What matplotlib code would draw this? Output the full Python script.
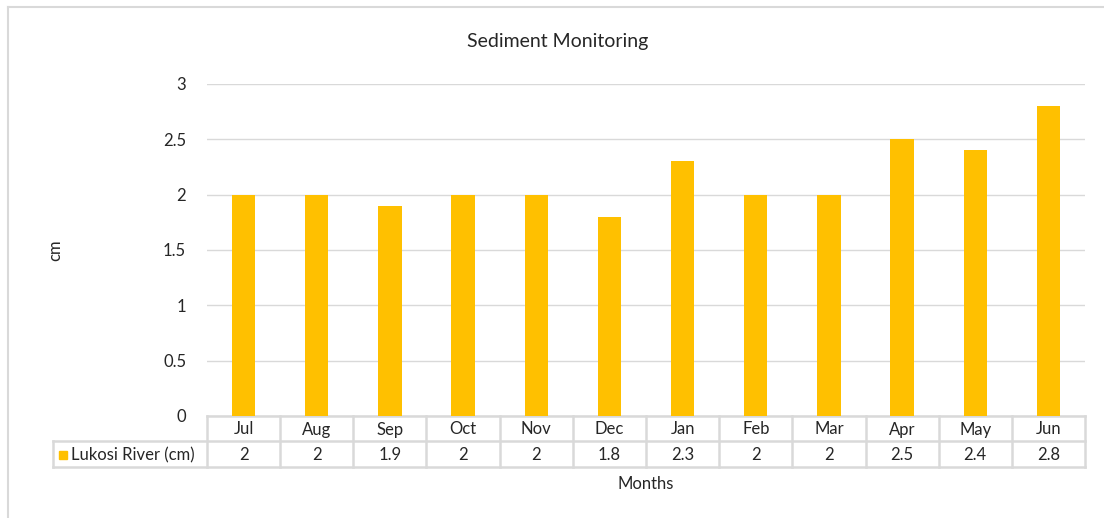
import matplotlib
matplotlib.use("Agg")
import matplotlib.pyplot as plt
from matplotlib.patches import Rectangle
from matplotlib.lines import Line2D
import matplotlib.transforms as mtrans

months = ["Jul", "Aug", "Sep", "Oct", "Nov", "Dec", "Jan", "Feb", "Mar", "Apr", "May", "Jun"]
values = [2, 2, 1.9, 2, 2, 1.8, 2.3, 2, 2, 2.5, 2.4, 2.8]
value_labels = ["2", "2", "1.9", "2", "2", "1.8", "2.3", "2", "2", "2.5", "2.4", "2.8"]
series_name = "Lukosi River (cm)"
yticks = [0, 0.5, 1, 1.5, 2, 2.5, 3]
ytick_labels = ["0", "0.5", "1", "1.5", "2", "2.5", "3"]

plt.rcParams['font.family'] = ['Lato', 'DejaVu Sans']

W, H = 1104, 518
fig = plt.figure(figsize=(W / 100, H / 100), dpi=100)
fig.patch.set_facecolor("white")

grid_c = "#D9D9D9"
bar_c = "#FFC000"
txt_c = "#262626"
fs = 12

# chart border
fig.add_artist(Line2D([8 / W, 8 / W], [0, 1 - 7 / H], transform=fig.transFigure, color=grid_c, lw=1.5))
fig.add_artist(Line2D([8 / W, 1], [1 - 7 / H, 1 - 7 / H], transform=fig.transFigure, color=grid_c, lw=1.5))

L, R, T, B = 207, 1085, 84, 416
ax = fig.add_axes([L / W, 1 - B / H, (R - L) / W, (B - T) / H])
x = list(range(len(months)))
ax.bar(x, values, width=0.32, color=bar_c, zorder=3)
ax.set_xlim(-0.5, len(months) - 0.5)
ax.set_ylim(0, 3)
ax.set_yticks(yticks)
ax.set_yticklabels(ytick_labels, fontsize=fs, color=txt_c)
ax.tick_params(axis='y', length=0, pad=15)
ax.set_xticks([])
ax.grid(axis='y', color=grid_c, lw=1, zorder=0)
for s in ax.spines.values():
    s.set_visible(False)

trans = mtrans.blended_transform_factory(ax.transData, fig.transFigure)
def fy(py):
    return 1 - py / H

r0, r1, r2 = 416, 441, 467
lw_t = 1.8
ax.add_line(Line2D([-0.5, len(months) - 0.5], [fy(r0), fy(r0)], transform=trans, color=grid_c, lw=lw_t, clip_on=False))
fig.add_artist(Line2D([53 / W, R / W], [fy(r1), fy(r1)], transform=fig.transFigure, color=grid_c, lw=lw_t))
fig.add_artist(Line2D([53 / W, R / W], [fy(r2), fy(r2)], transform=fig.transFigure, color=grid_c, lw=lw_t))
fig.add_artist(Line2D([53 / W, 53 / W], [fy(r1), fy(r2)], transform=fig.transFigure, color=grid_c, lw=lw_t))
for i in range(len(months) + 1):
    ax.add_line(Line2D([i - 0.5, i - 0.5], [fy(r0), fy(r2)], transform=trans, color=grid_c, lw=lw_t, clip_on=False))
for i, (m, v) in enumerate(zip(months, value_labels)):
    ax.text(i, fy((r0 + r1) / 2 + 1), m, transform=trans, ha='center', va='center', fontsize=fs, color=txt_c)
    ax.text(i, fy((r1 + r2) / 2 + 1), v, transform=trans, ha='center', va='center', fontsize=fs, color=txt_c)

# legend key
fig.add_artist(Rectangle((59 / W, fy(459)), 8 / W, 8 / H, transform=fig.transFigure, color=bar_c))
fig.text(71 / W, fy(455), series_name, ha='left', va='center', fontsize=fs, color=txt_c)

fig.text(558 / W, fy(41), "Sediment Monitoring", ha='center', va='center', fontsize=14, color=txt_c)
fig.text(55 / W, fy(250), "cm", ha='center', va='center', rotation=90, fontsize=fs, color=txt_c)
fig.text((L + R) / 2 / W, fy(484), "Months", ha='center', va='center', fontsize=fs, color=txt_c)

fig.savefig("out.png", dpi=100, facecolor="white")
